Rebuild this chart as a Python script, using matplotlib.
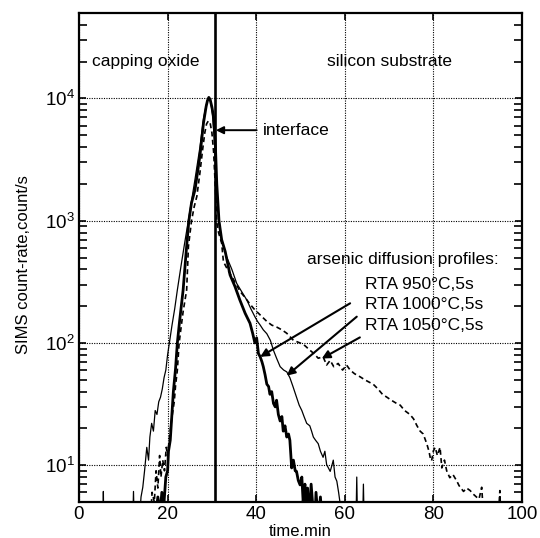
import matplotlib
matplotlib.use("Agg")
import matplotlib.pyplot as plt
from matplotlib.ticker import LogLocator, FixedLocator, NullFormatter

plt.rcParams['font.family'] = ['Liberation Sans', 'DejaVu Sans']
plt.rcParams['mathtext.fontset'] = 'custom'
plt.rcParams['mathtext.rm'] = 'Liberation Sans'

# ---- data (time in min, SIMS count rate in counts/s) ----
t_950 = [15.5, 16.5, 17.2, 17.8, 18.3, 18.7, 19.2, 19.6, 20.0, 20.2, 20.6, 21.0, 21.3,
         21.8, 22.2, 22.7, 23.5, 24.2, 24.8, 25.4, 26.2, 27.3, 28.1, 28.7, 29.0, 29.3,
         29.6, 30.0, 30.4, 30.8, 31.1, 31.6, 32.2, 33.0, 34.1, 35.2, 36.3, 37.5, 38.6,
         39.2, 39.7, 40.1, 40.5, 40.9, 41.3, 41.6, 42.0, 42.4, 42.8, 43.1, 43.5, 43.9,
         44.3, 44.6, 45.0, 45.4, 45.8, 46.1, 46.5, 46.9, 47.3, 47.6, 47.8, 48.0, 48.4,
         48.8, 49.1, 49.5, 49.9, 50.3, 50.6, 51.0, 51.3, 51.6, 52.0, 52.4, 52.8, 53.2,
         53.5, 54.0, 54.5, 55.0, 55.5, 56.0]
c_950 = [3, 4.5, 3.5, 5.5, 4, 6, 5, 8, 9, 13, 16, 27, 40,
         62, 100, 150, 270, 560, 1000, 1400, 1800, 3400, 6300, 8600, 9600, 10200,
         9800, 8500, 7000, 4000, 2000, 1000, 700, 560, 360, 290, 225, 175, 145,
         120, 100, 110, 82, 77, 70, 64, 55, 46, 44, 38, 40, 32,
         30, 34, 26, 23, 25, 19, 21, 17, 18, 16, 12.4, 9.5, 11,
         9, 8.9, 7.5, 6.9, 8, 5, 7, 4, 6.5, 3.5, 7, 4.5, 3,
         6, 3.5, 5.5, 3, 4.5, 3]

t_1000 = [5.0, 5.4, 5.5, 5.6, 12.1, 12.3, 12.5, 13.5, 14.0, 14.4, 14.8, 15.3, 15.7,
          16.0, 16.4, 16.8, 17.2, 17.6, 18.0, 18.4, 18.8, 19.2, 19.6, 20.0, 20.4,
          21.0, 21.6, 22.2, 23.0, 23.8, 24.6, 25.4, 26.2, 27.3, 28.1, 28.7, 29.0,
          29.3, 29.7, 30.1, 30.5, 30.9, 31.3, 31.8, 32.5, 33.3, 34.5, 35.6, 36.8,
          37.9, 38.8, 39.7, 40.3, 40.9, 41.6, 42.4, 43.2, 43.9, 44.6, 45.4, 46.2,
          46.9, 47.6, 48.3, 49.1, 49.7, 50.3, 50.8, 51.4, 52.1, 52.5, 52.9, 53.4,
          54.0, 54.5, 55.1, 55.5, 55.9, 56.3, 56.7, 57.1, 57.4, 57.8, 58.2, 58.6,
          58.9, 59.5, 60.5, 62.5, 62.7, 62.9, 64.0, 64.2, 64.4, 66.0]
c_1000 = [3, 3, 6.1, 3, 3, 6.1, 3, 3, 5.5, 6.6, 9, 14, 11,
          17, 22, 19, 28, 26, 33, 36, 42, 52, 60, 80, 100,
          140, 190, 271, 420, 640, 960, 1450, 2200, 4000, 6800, 8800, 9600,
          10000, 9500, 7500, 5000, 2600, 1300, 800, 640, 509, 400, 307, 260,
          224, 190, 164, 150, 140, 128, 119, 105, 87, 75, 64, 60,
          58, 52, 44, 36, 31, 28, 25, 22, 21, 19, 17, 16,
          15, 13, 11.6, 13, 10.1, 9.5, 8.9, 10, 11, 8, 7.4, 6,
          5, 4, 3.5, 3, 8, 3, 3, 7, 3, 3]

t_1050 = [16.0, 16.5, 17.0, 17.4, 17.8, 18.2, 18.5, 18.9, 19.3, 19.7, 20.0, 20.5, 21.0,
          21.5, 21.8, 22.2, 22.6, 23.0, 23.5, 24.3, 24.7, 25.4, 26.0, 26.6, 27.3, 27.9,
          28.4, 28.8, 29.2, 29.6, 30.0, 30.4, 30.8, 31.1, 31.5, 32.2, 32.6, 33.5, 34.5,
          35.5, 36.5, 37.5, 38.5, 39.5, 40.5, 41.6, 42.4, 43.5, 44.6, 45.8, 46.9, 48.4,
          49.9, 51.0, 52.0, 53.0, 54.0, 55.1, 55.9, 56.7, 57.5, 58.5, 59.5, 60.4, 61.2,
          62.2, 63.4, 64.5, 65.4, 66.4, 67.5, 68.5, 69.5, 70.5, 71.7, 72.5, 73.5, 74.7,
          75.5, 76.3, 77.0, 77.7, 78.5, 79.0, 79.4, 79.6, 80.0, 80.4, 80.9, 81.5, 81.9,
          82.5, 83.0, 83.7, 84.4, 85.3, 85.8, 86.8, 87.5, 88.3, 89.0, 89.7, 90.3, 90.9,
          91.3, 92.0, 93.0, 94.5, 95.0, 95.3, 96.0]
c_1050 = [3, 6, 5, 9, 6.5, 12, 8, 11, 9, 14, 12, 18, 25,
          33, 45, 60, 100, 130, 180, 271, 615, 1000, 1300, 1580, 2470, 3800,
          5250, 6200, 6550, 6300, 5250, 3600, 1800, 970, 800, 656, 463, 400, 349,
          300, 260, 235, 210, 190, 175, 160, 150, 140, 135, 128, 120, 105,
          100, 95, 88, 82, 75, 77, 66, 72, 64, 68, 60, 66, 60,
          56, 53, 50, 48, 46, 42, 38, 36, 34, 32, 31, 28, 26,
          24, 21, 19, 18, 15, 13, 11, 10.9, 13.1, 14, 12, 14, 9.5,
          11, 9, 7.9, 8.4, 7.4, 6.8, 6.1, 6.5, 6.2, 5.8, 5.5, 5.3, 6.6,
          4, 3, 3, 3, 6.2, 3, 3]

interface_t = 30.6
x_ticks = [0, 20, 40, 60, 80, 100]
profile_labels = ["RTA 950°C,5s", "RTA 1000°C,5s", "RTA 1050°C,5s"]

# ---- figure ----
fig = plt.figure(figsize=(5.40, 5.38), dpi=100)
ax = fig.add_axes([79/540, 1-502/538, (522-79)/540, (502-13)/538])

ax.plot(t_950, c_950, color='black', lw=2.0, solid_joinstyle='round')
ax.plot(t_1000, c_1000, color='black', lw=0.9)
ax.plot(t_1050, c_1050, color='black', lw=1.2, dashes=(3, 2))

ax.axvline(interface_t, color='black', lw=1.9)

ax.set_yscale('log')
ax.set_xlim(0, 100)
ax.set_ylim(5, 5e4)
ax.xaxis.set_major_locator(FixedLocator(x_ticks))
ax.yaxis.set_major_locator(LogLocator(base=10, numticks=10))
ax.yaxis.set_minor_locator(LogLocator(base=10, subs=range(2, 10), numticks=20))
ax.yaxis.set_minor_formatter(NullFormatter())

ax.grid(True, which='major', color='black', lw=0.8, linestyle=(0, (1, 1.2)))
for s in ax.spines.values():
    s.set_linewidth(1.6)
ax.tick_params(which='both', direction='in', top=True, right=True, width=1.2)
ax.tick_params(which='major', length=5, labelsize=13.5)
ax.tick_params(which='minor', length=6)
ax.tick_params(axis='x', pad=3)
ax.tick_params(axis='y', pad=3)

ax.set_xlabel('time.min', fontsize=12)
ax.xaxis.set_label_coords(0.5, -0.045)
ax.set_ylabel('SIMS count-rate,count/s', fontsize=12)
ax.yaxis.set_label_coords(-0.108, 0.485)

ax.text(15.0, 2.0e4, 'capping oxide', fontsize=12.5, ha='center', va='center')
ax.text(70.0, 2.0e4, 'silicon substrate', fontsize=12.5, ha='center', va='center')
ax.annotate('', xy=(interface_t + 0.3, 5500), xytext=(40.1, 5500),
            arrowprops=dict(arrowstyle='-|>', lw=1.4, color='black',
                            mutation_scale=11, shrinkA=0, shrinkB=0))
ax.text(41.6, 5500, 'interface', fontsize=12.5, ha='left', va='center')

ax.text(51.5, 480, 'arsenic diffusion profiles:', fontsize=12.5, ha='left', va='center')
label_y = [300, 205, 140]
for lab, ly in zip(profile_labels, label_y):
    ax.text(64.6, ly, lab, fontsize=12.5, ha='left', va='center')

arrow_specs = [((61.2, 211), (40.9, 77)),
               ((62.7, 164), (46.9, 54)),
               ((63.4, 111), (54.8, 74.5))]
for start, end in arrow_specs:
    ax.annotate('', xy=end, xytext=start,
                arrowprops=dict(arrowstyle='-|>', lw=1.5, color='black',
                                mutation_scale=12, shrinkA=0, shrinkB=0))

fig.savefig('out.png', dpi=100)
